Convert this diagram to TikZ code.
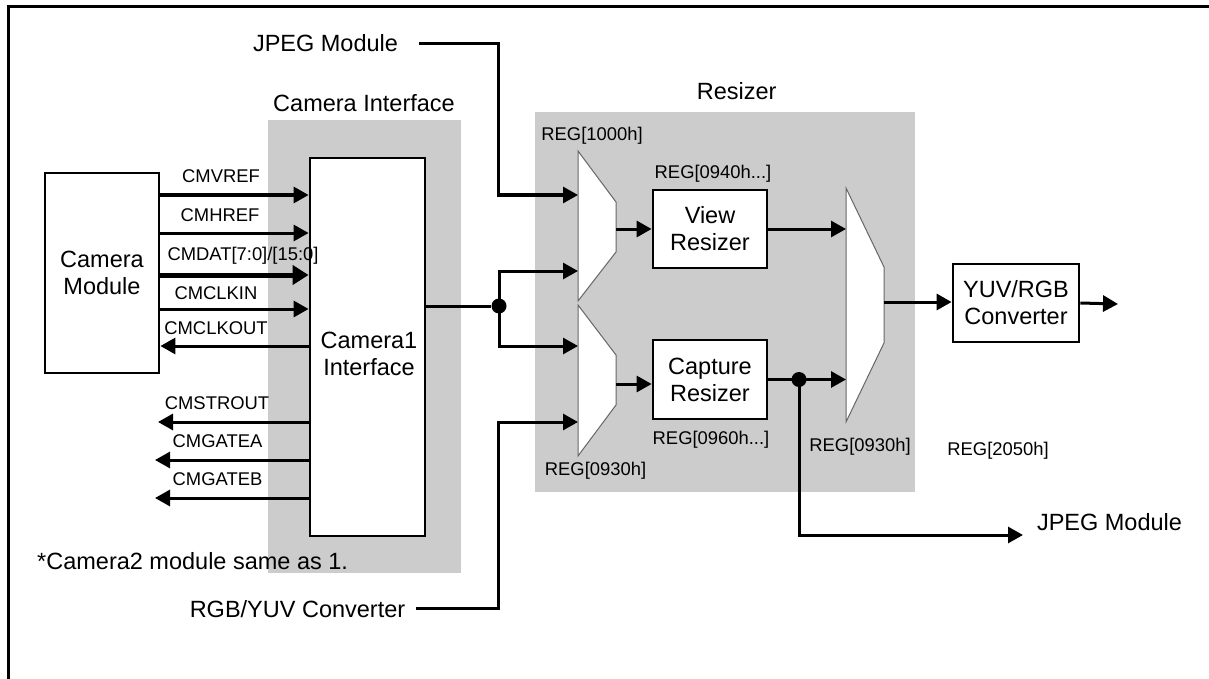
\documentclass[tikz,border=0pt]{standalone}
\usepackage{fontspec}
\setmainfont{Liberation Sans}
\usetikzlibrary{arrows.meta,positioning,calc}
\definecolor{panelgray}{RGB}{204,204,204}

\begin{document}
\begin{tikzpicture}[x=1pt, y=-1pt,
    box/.style={draw, line width=2.8pt, fill=white, inner sep=0pt, align=center, font=\fontsize{23.5}{27}\selectfont},
    panel/.style={fill=panelgray, inner sep=0pt},
    mux/.style={draw=black!60, line width=1pt, fill=white},
    wire/.style={line width=3pt},
    arr/.style={-{Triangle[length=15pt, width=16pt]}, line width=3pt},
    bus/.style={-{Triangle[length=16pt, width=19pt]}, line width=5pt},
    txt/.style={font=\fontsize{23.5}{27}\selectfont, inner sep=0pt, text height=16.8pt, text depth=0pt},
    lbl/.style={font=\fontsize{18.4}{22}\selectfont, inner sep=0pt, text height=13.2pt, text depth=0pt},
    dot/.style={circle, fill, inner sep=0pt, minimum size=15pt}
]
\useasboundingbox (0,0) rectangle (1209,679);

% frame
\draw[line width=3pt] (8,679) -- (8,7) -- (1209,7);

% grey areas
\node[panel, minimum width=193pt, minimum height=453pt] (ciarea) at (364.5,346.5) {};
\node[panel, minimum width=380pt, minimum height=380pt] (rzarea) at (725,302) {};
\node[txt] (citxt) at (364,103.3) {Camera Interface};
\node[txt] (rztxt) at (736.7,90.9) {Resizer};

% blocks
\node[box, minimum width=114pt, minimum height=200pt] (cam) at (102,273) {Camera\\Module};
\node[box, minimum width=115pt, minimum height=378pt] (cif) at (367.5,347) {};
\node[font=\fontsize{23.5}{27}\selectfont, align=center, inner sep=0pt] (ciftxt) at (369,354) {Camera1\\Interface};
\node[box, minimum width=114pt, minimum height=78pt] (view) at (710,229) {View\\Resizer};
\node[box, minimum width=114pt, minimum height=79pt] (cap) at (710,379.5) {Capture\\Resizer};
\node[box, minimum width=126pt, minimum height=78pt] (yuv) at (1016,303) {YUV/RGB\\Converter};

% multiplexers
\draw[mux] (578,151) -- (616,202) -- (616,252) -- (578,301) -- cycle;
\draw[mux] (578,305) -- (616,355) -- (616,405) -- (578,456) -- cycle;
\draw[mux] (846,188) -- (884,267) -- (884,343) -- (846,422) -- cycle;
\coordinate (m1a) at (578,195);
\coordinate (m1b) at (578,271);
\coordinate (m1o) at (616,229);
\coordinate (m2a) at (578,346);
\coordinate (m2b) at (578,422);
\coordinate (m2o) at (616,384);
\coordinate (m3a) at (846,229);
\coordinate (m3b) at (846,379.5);
\coordinate (m3o) at (884,302);

% camera signals
\draw[arr] (cam.east |- 0,195) -- (cif.west |- 0,195);
\draw[arr] (cam.east |- 0,233) -- (cif.west |- 0,233);
\draw[bus] (cam.east |- 0,275) -- (cif.west |- 0,275);
\draw[arr] (cam.east |- 0,309) -- (cif.west |- 0,309);
\draw[arr] (cif.west |- 0,346) -- (cam.east |- 0,346);
\coordinate (strout) at (158,422);
\coordinate (gatea) at (155,460);
\coordinate (gateb) at (155,498);
\draw[arr] (cif.west |- strout) -- (strout);
\draw[arr] (cif.west |- gatea) -- (gatea);
\draw[arr] (cif.west |- gateb) -- (gateb);

\node[lbl] (lvref) at (221,176) {CMVREF};
\node[lbl] (lhref) at (220,215.1) {CMHREF};
\node[lbl] (ldat) at (243,254.1) {CMDAT[7:0]/[15:0]};
\node[lbl] (lclkin) at (216,292.7) {CMCLKIN};
\node[lbl] (lclkout) at (216,327.4) {CMCLKOUT};
\node[lbl] (lstrout) at (217,402.7) {CMSTROUT};
\node[lbl] (lgatea) at (217.5,440.7) {CMGATEA};
\node[lbl] (lgateb) at (217.5,478.7) {CMGATEB};

\node[txt, anchor=west] (note) at (37,560.9) {*Camera2 module same as 1.};

% resizer inputs
\node[txt] (jpegin) at (325.5,43.3) {JPEG Module};
\node[txt] (rgbin) at (297.5,608.9) {RGB/YUV Converter};
\coordinate (jbend) at (498,195);
\coordinate (rbend) at (498,422);
\draw[arr] ([xshift=21pt]jpegin.east) -| (jbend) -- (m1a);
\draw[arr] ([xshift=11pt]rgbin.east) -| (rbend) -- (m2b);
\node[dot] (jn) at (499,306) {};
\draw[wire] (cif.east |- jn) -- (jn);
\draw[arr] (jn.center) |- (m1b);
\draw[arr] (jn.center) |- (m2a);

% resizer paths
\draw[arr] (m1o) -- (view.west);
\draw[arr] (m2o) -- (m2o -| cap.west);
\draw[arr] (view.east) -- (m3a);
\draw[arr] (cap.east) -- (m3b);
\node[dot] (jn2) at (799,379.5) {};
\coordinate (jout) at (1023,535);
\draw[arr] (jn2.center) |- (jout);
\node[txt] (jpegout) at (1109.5,521.6) {JPEG Module};
\draw[arr] (m3o) -- (m3o -| yuv.west);
\coordinate (yuvout) at (1118,304);
\draw[arr] (yuv.east) -- (yuvout);

% registers
\node[lbl] (r1000) at (592,134.4) {REG[1000h]};
\node[lbl] (r0940) at (713,171.7) {REG[0940h...]};
\node[lbl] (r0960) at (711,437.4) {REG[0960h...]};
\node[lbl] (r0930a) at (595.5,468.4) {REG[0930h]};
\node[lbl] (r0930b) at (860,445.1) {REG[0930h]};
\node[lbl] (r2050) at (998,448.4) {REG[2050h]};
\end{tikzpicture}
\end{document}
